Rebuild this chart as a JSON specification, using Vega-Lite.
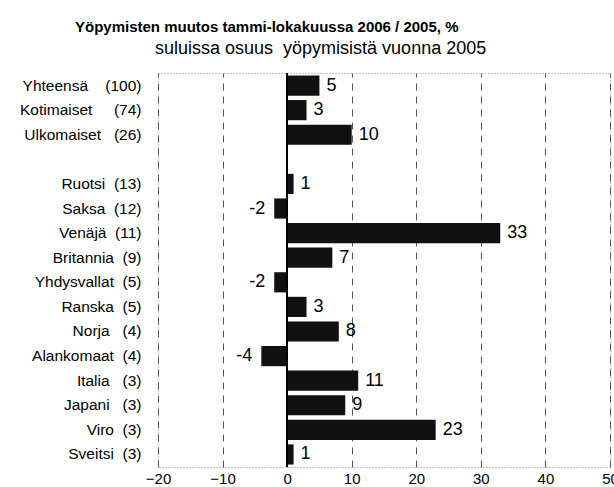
{
  "$schema": "https://vega.github.io/schema/vega-lite/v6.json",
  "width": 452,
  "height": 394,
  "autosize": "none",
  "padding": {"left": 158, "top": 73, "right": 4, "bottom": 20},
  "background": "white",
  "title": {
    "text": "Yöpymisten muutos tammi-lokakuussa 2006 / 2005, %",
    "subtitle": "\u200b\u00a0\u00a0\u00a0\u00a0\u00a0\u00a0\u00a0\u00a0\u00a0\u00a0\u00a0\u00a0\u00a0\u00a0\u00a0\u00a0suluissa osuus\u00a0\u00a0yöpymisistä vuonna 2005",
    "anchor": "start",
    "frame": "group",
    "dx": -83,
    "font": "Liberation Sans",
    "fontSize": 15,
    "fontWeight": "bold",
    "color": "black",
    "subtitleFont": "Liberation Sans",
    "subtitleFontSize": 18,
    "subtitleColor": "black",
    "subtitlePadding": 5,
    "offset": 14
  },
  "config": {
    "view": {"stroke": "#888", "strokeDash": [1, 2], "strokeWidth": 1},
    "font": "Liberation Sans"
  },
  "data": {
    "values": [
      {"cat": "Yhteensä\u00a0\u00a0\u00a0\u00a0(100)", "v": 5},
      {"cat": "Kotimaiset\u00a0\u00a0\u00a0\u00a0\u00a0(74)", "v": 3},
      {"cat": "Ulkomaiset\u00a0\u00a0\u00a0(26)", "v": 10},
      {"cat": "Ruotsi\u00a0\u00a0(13)", "v": 1},
      {"cat": "Saksa\u00a0\u00a0(12)", "v": -2},
      {"cat": "Venäjä\u00a0\u00a0(11)", "v": 33},
      {"cat": "Britannia\u00a0\u00a0(9)", "v": 7},
      {"cat": "Yhdysvallat\u00a0\u00a0(5)", "v": -2},
      {"cat": "Ranska\u00a0\u00a0(5)", "v": 3},
      {"cat": "Norja\u00a0\u00a0\u00a0(4)", "v": 8},
      {"cat": "Alankomaat\u00a0\u00a0(4)", "v": -4},
      {"cat": "Italia\u00a0\u00a0\u00a0(3)", "v": 11},
      {"cat": "Japani\u00a0\u00a0\u00a0(3)", "v": 9},
      {"cat": "Viro\u00a0\u00a0(3)", "v": 23},
      {"cat": "Sveitsi\u00a0\u00a0(3)", "v": 1}
    ]
  },
  "encoding": {
    "y": {
      "field": "cat",
      "type": "nominal",
      "sort": null,
      "scale": {
        "domain": [
          "Yhteensä\u00a0\u00a0\u00a0\u00a0(100)", "Kotimaiset\u00a0\u00a0\u00a0\u00a0\u00a0(74)", "Ulkomaiset\u00a0\u00a0\u00a0(26)", "",
          "Ruotsi\u00a0\u00a0(13)", "Saksa\u00a0\u00a0(12)", "Venäjä\u00a0\u00a0(11)", "Britannia\u00a0\u00a0(9)",
          "Yhdysvallat\u00a0\u00a0(5)", "Ranska\u00a0\u00a0(5)", "Norja\u00a0\u00a0\u00a0(4)", "Alankomaat\u00a0\u00a0(4)",
          "Italia\u00a0\u00a0\u00a0(3)", "Japani\u00a0\u00a0\u00a0(3)", "Viro\u00a0\u00a0(3)", "Sveitsi\u00a0\u00a0(3)"
        ],
        "paddingInner": 0.18,
        "paddingOuter": 0.1
      },
      "axis": {
        "title": null,
        "ticks": false,
        "domain": false,
        "labelPadding": 17,
        "labelFont": "Liberation Sans",
        "labelFontSize": 15.5,
        "labelColor": "black"
      }
    }
  },
  "layer": [
    {
      "mark": {"type": "bar", "color": "#111"},
      "encoding": {
        "x": {
          "field": "v",
          "type": "quantitative",
          "scale": {"domain": [-20, 50], "nice": false, "zero": false},
          "axis": {
            "title": null,
            "values": [-20, -10, 0, 10, 20, 30, 40, 50],
            "grid": true,
            "gridDash": [7, 6],
            "gridColor": "#555",
            "gridWidth": 1,
            "ticks": false,
            "domain": false,
            "labelFont": "Liberation Sans",
            "labelFontSize": 15,
            "labelColor": "black",
            "labelPadding": 4,
            "labelFlush": false
          }
        }
      }
    },
    {
      "mark": {"type": "rule", "color": "black", "strokeWidth": 1.5},
      "encoding": {"x": {"datum": 0, "type": "quantitative"}, "y": {"value": 0}, "y2": {"value": 394}}
    },
    {
      "transform": [{"filter": "datum.v >= 0"}],
      "mark": {"type": "text", "align": "left", "dx": 7, "font": "Liberation Sans", "fontSize": 18, "color": "black"},
      "encoding": {"x": {"field": "v", "type": "quantitative"}, "text": {"field": "v"}}
    },
    {
      "transform": [{"filter": "datum.v < 0"}],
      "mark": {"type": "text", "align": "right", "dx": -9, "font": "Liberation Sans", "fontSize": 18, "color": "black"},
      "encoding": {"x": {"field": "v", "type": "quantitative"}, "text": {"field": "v"}}
    }
  ]
}
